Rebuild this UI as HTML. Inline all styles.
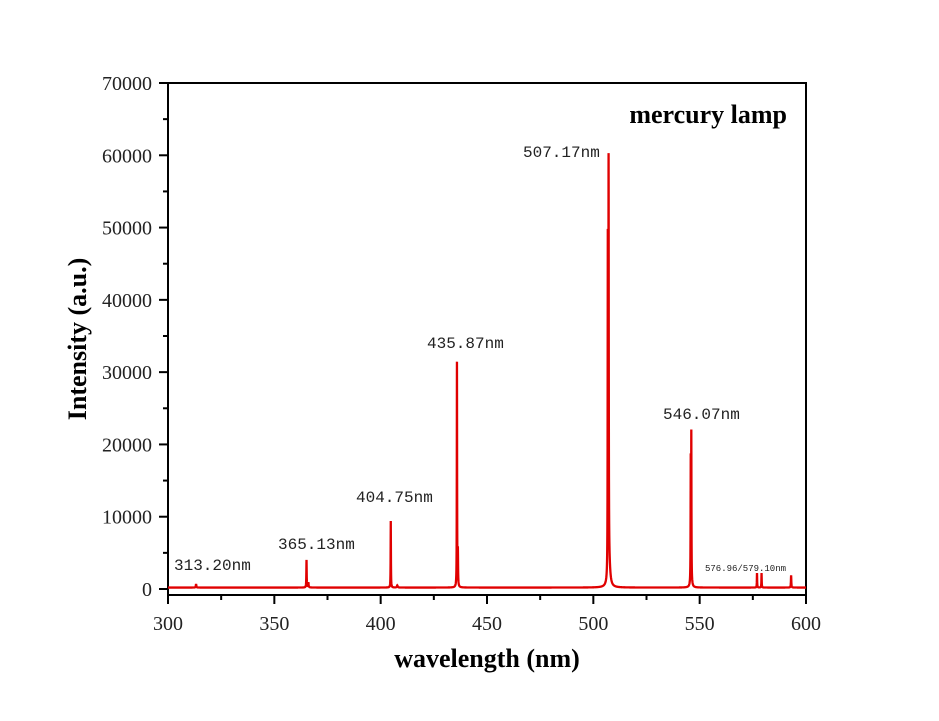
<!DOCTYPE html>
<html><head><style>
body{margin:0;background:#fff}
svg text{font-family:"Liberation Serif",serif}
</style></head><body>
<svg id="s" width="939" height="716" xmlns="http://www.w3.org/2000/svg">
<rect width="939" height="716" fill="#fff"/>
<g id="ax" stroke="#000" stroke-width="2" fill="none">
<rect x="168" y="83" width="638" height="512"/>
</g>
<path id="p" fill="none" stroke="#e00000" stroke-width="2.3"/>
<g font-size="20" fill="#222" id="lbl"></g>
<text x="487" y="667" font-size="26" font-weight="bold" text-anchor="middle">wavelength (nm)</text>
<text transform="translate(86,339) rotate(-90)" font-size="26" font-weight="bold" text-anchor="middle">Intensity (a.u.)</text>
<text x="787" y="123" font-size="26" font-weight="bold" text-anchor="end">mercury lamp</text>
<g font-size="16" fill="#222">
<text x="174" y="570" style="font-family:'Liberation Mono',monospace">313.20nm</text>
<text x="278" y="549" style="font-family:'Liberation Mono',monospace">365.13nm</text>
<text x="356" y="502" style="font-family:'Liberation Mono',monospace">404.75nm</text>
<text x="427" y="348" style="font-family:'Liberation Mono',monospace">435.87nm</text>
<text x="523" y="157" style="font-family:'Liberation Mono',monospace">507.17nm</text>
<text x="663" y="419" style="font-family:'Liberation Mono',monospace">546.07nm</text>
<text x="705" y="571" font-size="9" style="font-family:'Liberation Mono',monospace">576.96/579.10nm</text>
</g>
</svg>
<script>
const X=w=>168+(w-300)*638/300, Y=v=>589-v*506/70000;
const ns="http://www.w3.org/2000/svg";
const ax=document.getElementById('ax'), lbl=document.getElementById('lbl');
function line(x1,y1,x2,y2){const l=document.createElementNS(ns,'line');l.setAttribute('x1',x1);l.setAttribute('y1',y1);l.setAttribute('x2',x2);l.setAttribute('y2',y2);ax.appendChild(l);}
function txt(x,y,t,a){const e=document.createElementNS(ns,'text');e.setAttribute('x',x);e.setAttribute('y',y);e.setAttribute('text-anchor',a);e.textContent=t;lbl.appendChild(e);}
for(let w=300;w<=600;w+=25){const x=X(w),maj=w%50==0;line(x,595,x,595+(maj?9:5));if(maj)txt(x,630,w,'middle');}
for(let v=0;v<=70000;v+=5000){const y=Y(v),maj=v%10000==0;line(168,y,168-(maj?9:5),y);if(maj)txt(152,y+7,v,'end');}
const pk=[[313.2,500,.25],[365.13,3800,.18],[366,700,.3],[404.75,9200,.15],[407.8,300,.4],[435.87,31000,.15],[436.3,4800,.2],[507.17,55700,.18],[506.8,45000,.15],[507.4,3000,1.2],[546.07,19900,.15],[545.8,16500,.15],[546,800,.8],[576.96,2000,.15],[579.1,2000,.15],[593,1700,.2]];
const ws=[];for(let i=0;i<=6000;i++)ws.push(300+i*0.05);
for(const p of pk)ws.push(p[0]);ws.sort((a,b)=>a-b);
let d='';
for(const w of ws){let v=200;for(const[c,a,g]of pk){const t=(w-c)/g;v+=a/(1+t*t*4);}
d+=(d?'L':'M')+X(w).toFixed(2)+','+Y(v).toFixed(2);}
document.getElementById('p').setAttribute('d',d);
</script>
</body></html>
